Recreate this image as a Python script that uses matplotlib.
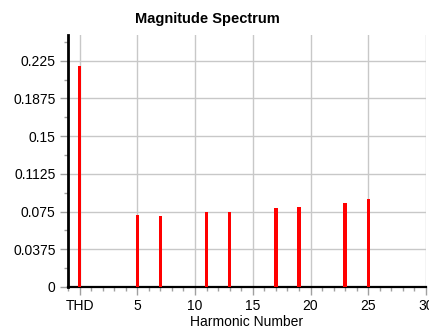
import matplotlib
matplotlib.use("Agg")
import matplotlib.pyplot as plt
from matplotlib.ticker import MultipleLocator

plt.rcParams['font.family'] = ['Liberation Sans', 'DejaVu Sans']

harmonics = [0, 5, 7, 11, 13, 17, 19, 23, 25]
magnitudes = [0.2197, 0.0716, 0.0706, 0.0749, 0.0749, 0.0785, 0.0795, 0.0835, 0.0875]
xtick_values = [0, 5, 10, 15, 20, 25, 30]
xtick_labels = ["THD", "5", "10", "15", "20", "25", "30"]
ytick_values = [0, 0.0375, 0.075, 0.1125, 0.15, 0.1875, 0.225]
ytick_labels = ["0", "0.0375", "0.075", "0.1125", "0.15", "0.1875", "0.225"]

fig = plt.figure(figsize=(4.29, 3.27), dpi=100)
W, H = 429, 327
ax = fig.add_axes([68 / W, 1 - 287 / H, (426 - 68) / W, (287 - 35) / H])

ax.bar(harmonics, magnitudes, width=0.3, color="#ff0000", zorder=3)

ax.set_xlim(-1, 30)
ax.set_ylim(0, 0.2505)
ax.set_xticks(xtick_values)
ax.set_xticklabels(xtick_labels)
ax.set_yticks(ytick_values)
ax.set_yticklabels(ytick_labels)
ax.xaxis.set_minor_locator(MultipleLocator(1))
ax.yaxis.set_minor_locator(MultipleLocator(0.01875))

ax.grid(True, which="major", color="#c8c8c8", linewidth=1.0, zorder=0)
ax.set_axisbelow(True)

for s in ["top", "right"]:
    ax.spines[s].set_visible(False)
ax.spines["left"].set_linewidth(2.0)
ax.spines["bottom"].set_linewidth(1.6)
ax.spines["left"].set_color("black")
ax.spines["bottom"].set_color("black")

ax.tick_params(which="major", direction="out", length=6, width=1, color="#a0a0a0",
               labelsize=10, labelcolor="black", pad=3)
ax.tick_params(which="minor", direction="out", length=3, width=1, color="#a0a0a0")

ax.set_xlabel("Harmonic Number", fontsize=10, labelpad=1)
fig.text(207 / W, 1 - 19 / H, "Magnitude Spectrum", ha="center", va="center",
         fontsize=10.5, fontweight="bold")

fig.savefig("out.png", dpi=100)
